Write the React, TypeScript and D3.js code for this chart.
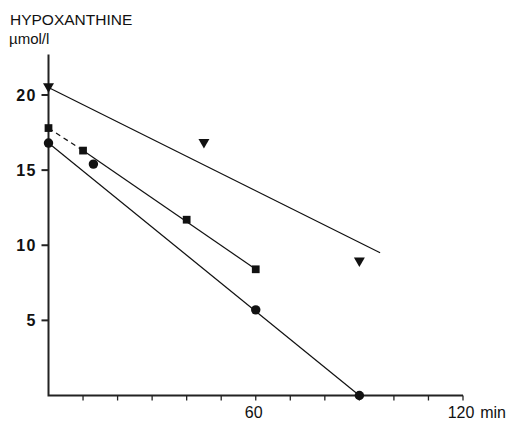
import React from 'react'
import * as d3 from 'd3'

// values (time in min, hypoxanthine in µmol/l)
const triangleT = [0, 45, 90]
const triangleV = [20.5, 16.8, 8.9]
const squareT = [0, 10, 40, 60]
const squareV = [17.8, 16.3, 11.7, 8.4]
const circleT = [0, 13, 60, 90]
const circleV = [16.8, 15.4, 5.7, 0]

// fitted lines: [t0, v0, t1, v1, dashed]
const fitLines: [number, number, number, number, boolean][] = [
  [0, 20.5, 96, 9.5, false],
  [0, 17.8, 10, 16.3, true],
  [10, 16.3, 60, 8.4, false],
  [0, 16.8, 90, 0, false],
]

const yTicks = [5, 10, 15, 20]
const xMinorTicks = d3.range(10, 121, 10)
const xLabels = [60, 120]

const W = 508
const H = 421

export default function App() {
  const x = d3.scaleLinear().domain([0, 120]).range([48.5, 463])
  const y = d3.scaleLinear().domain([0, 20]).range([395.5, 95])
  const yTop = 22.7

  const tri = d3.symbol(d3.symbolTriangle, 52)()
  const sq = d3.symbol(d3.symbolSquare, 60)()
  const circ = d3.symbol(d3.symbolCircle, 70)()
  const line = d3.line()

  const font = '"Liberation Sans", Arial, Helvetica, sans-serif'

  return (
    <svg width={W} height={H} style={{ position: 'absolute', left: 0, top: 0, background: '#fff' }}>
      <text x={10} y={25} fontFamily={font} fontSize={15.5} fill="#111">HYPOXANTHINE</text>
      <text x={9} y={44} fontFamily={font} fontSize={15} fill="#111">µmol/l</text>

      {/* axes */}
      <path d={line([[x(0), y(yTop)], [x(0), y(0)], [x(120), y(0)]])!} fill="none" stroke="#222" strokeWidth={2} />
      {yTicks.map(v => (
        <g key={v}>
          <line x1={x(0) - 7} x2={x(0)} y1={y(v)} y2={y(v)} stroke="#222" strokeWidth={2} />
          <text x={37} y={y(v) + 6} textAnchor="end" fontFamily={font} fontWeight="bold" fontSize={16} letterSpacing={1.5} fill="#111">{v}</text>
        </g>
      ))}
      {xMinorTicks.map(t => (
        <line key={t} x1={x(t)} x2={x(t)} y1={y(0)} y2={y(0) + 5} stroke="#222" strokeWidth={1.3} />
      ))}
      {xLabels.map(t => (
        <text key={t} x={x(t) - 2} y={418} textAnchor="middle" fontFamily={font} fontSize={16} fill="#111">{t}</text>
      ))}
      <text x={506} y={418} textAnchor="end" fontFamily={font} fontSize={16} fill="#111">min</text>

      {/* fitted lines */}
      {fitLines.map(([t0, v0, t1, v1, dashed], i) => (
        <path key={i} d={line([[x(t0), y(v0)], [x(t1), y(v1)]])!} stroke="#111" strokeWidth={1.2}
          strokeDasharray={dashed ? '5,4' : undefined} fill="none" />
      ))}

      {/* markers */}
      {triangleT.map((t, i) => (
        <path key={'t' + i} d={tri!} transform={`translate(${x(t)},${y(triangleV[i]) - 1}) rotate(180)`} fill="#111" />
      ))}
      {squareT.map((t, i) => (
        <path key={'s' + i} d={sq!} transform={`translate(${x(t)},${y(squareV[i])})`} fill="#111" />
      ))}
      {circleT.map((t, i) => (
        <path key={'c' + i} d={circ!} transform={`translate(${x(t)},${y(circleV[i])})`} fill="#111" />
      ))}
    </svg>
  )
}
